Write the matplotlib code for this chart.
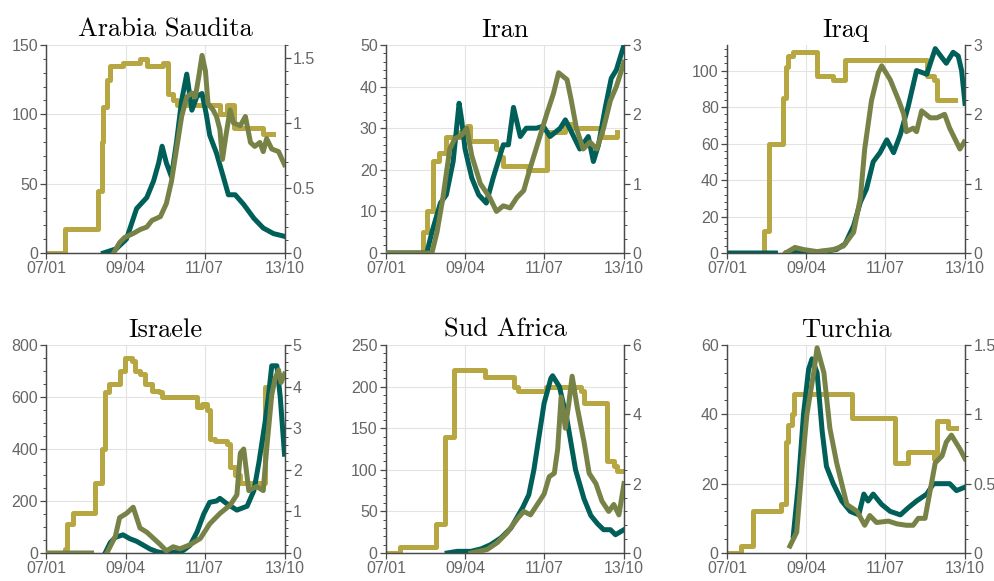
import numpy as np
import matplotlib
matplotlib.use("Agg")
import matplotlib.pyplot as plt
from matplotlib.ticker import AutoMinorLocator

# x axis: days since 07/01
xticks = [0, 93, 186, 280]
xlabels = ["07/01", "09/04", "11/07", "13/10"]

TEAL = "#005f58"; OLIVE = "#778247"; GOLD = "#b6a742"
nan = np.nan

# ---------- Arabia Saudita ----------
sa_gold_d = [0, 21.6, 59, 61, 65, 67, 71, 75, 90, 110, 118, 137, 143, 149, 153, 200, 204, 212, 218, 220, 251, 255, 267]
sa_gold_v = [0, 17, 17, 45, 80, 105, 125, 135, 137, 140, 135, 137, 115, 110, 107, 107, 100, 107, 107, 90, 90, 86, 86]
sa_teal_d = [67, 82, 94, 106, 118, 126, 132, 136, 141, 147, 153, 159, 165, 171, 177, 183, 188, 192, 200, 208, 214, 222, 232, 244, 255, 267, 280]
sa_teal_v = [0, 3, 10, 32, 40, 52, 65, 77, 65, 55, 80, 110, 129, 103, 113, 115, 100, 85, 72, 55, 42, 42, 35, 25, 18, 14, 12]
sa_olive_d = [79, 86, 92, 102, 110, 118, 124, 134, 141, 147, 153, 159, 165, 171, 175, 179, 183, 187, 190, 196, 200, 204, 207, 211, 216, 220, 228, 234, 240, 245, 251, 255, 259, 265, 273, 280]
sa_olive_v = [0, 0.08, 0.12, 0.15, 0.18, 0.2, 0.25, 0.28, 0.38, 0.55, 0.8, 1.05, 1.2, 1.23, 1.2, 1.35, 1.52, 1.4, 1.15, 1.1, 1.05, 0.95, 0.72, 0.9, 1.1, 1.0, 0.98, 1.05, 0.85, 0.82, 0.85, 0.78, 0.88, 0.8, 0.78, 0.68]

# ---------- Iran ----------
ir_gold_d = [0, 42, 44, 48, 55, 62, 71, 87, 95, 99, 122, 130, 134, 138, 165, 167, 185, 189, 205, 211, 220, 252, 254, 269, 272]
ir_gold_v = [0, 0, 5, 10, 22, 24, 28, 29, 30.5, 27, 27, 25, 23, 21, 21, 20, 20, 29, 29, 31, 30, 30, 28, 28, 29]
ir_teal_d = [0, 48, 54, 64, 71, 79, 86, 89, 93, 101, 109, 118, 126, 138, 144, 150, 158, 165, 177, 185, 193, 205, 211, 216, 228, 238, 244, 250, 258, 265, 271, 280]
ir_teal_v = [0, 0, 5, 12, 14, 22, 36, 32, 25, 18, 14, 12, 18, 26, 26, 35, 28, 30, 30, 30.5, 28, 30, 32, 30, 25, 28, 22, 26, 35, 42, 44, 50]
ir_olive_d = [0, 54, 60, 67, 75, 81, 89, 95, 101, 111, 122, 130, 138, 146, 154, 162, 169, 179, 189, 197, 203, 213, 218, 224, 232, 240, 248, 256, 264, 271, 280]
ir_olive_v = [0, 0, 0.3, 0.8, 1.5, 1.65, 1.7, 1.8, 1.4, 1.0, 0.8, 0.6, 0.68, 0.65, 0.8, 0.9, 1.2, 1.6, 2.0, 2.3, 2.6, 2.5, 2.2, 1.8, 1.5, 1.6, 1.5, 1.8, 2.2, 2.4, 2.75]

# ---------- Iraq ----------
iq_gold_d = [0, 41, 43, 49, 63, 66, 69, 72, 78, 104, 106, 121, 125, 137, 139, 233, 235, 243, 247, 268]
iq_gold_v = [0, 0, 12, 60, 60, 85, 102, 108, 110, 110, 97, 97, 95, 95, 106, 106, 97, 95, 84, 84]
iq_teal_d = [0, 57, 57.5, 70, 117, 129, 139, 149, 157, 164, 172, 180, 188, 196, 204, 213, 223, 235, 245, 253, 258, 266, 272, 276, 280]
iq_teal_v = [0, 0, nan, 0, 1, 2, 5, 15, 28, 35, 50, 55, 62, 55, 65, 80, 100, 98, 112, 107, 104, 110, 108, 100, 82]
iq_olive_d = [69, 80, 90, 106, 125, 137, 149, 157, 162, 170, 178, 182, 192, 202, 208, 211, 219, 223, 229, 239, 247, 256, 262, 270, 274, 279]
iq_olive_v = [0, 0.08, 0.05, 0.02, 0.05, 0.1, 0.3, 0.8, 1.5, 2.2, 2.6, 2.7, 2.5, 2.2, 2.0, 1.75, 1.8, 1.75, 2.05, 1.95, 1.95, 2.0, 1.8, 1.6, 1.5, 1.6]

# ---------- Israele ----------
il_gold_d = [0, 16, 22, 24, 31, 53, 57, 61, 65, 69, 73, 81, 86, 92, 100, 104, 110, 116, 124, 132, 136, 173, 177, 183, 189, 192, 198, 212, 216, 222, 228, 253, 257, 263, 271, 274]
il_gold_v = [0, 0, 15, 110, 155, 155, 270, 270, 400, 620, 650, 650, 700, 750, 740, 700, 690, 650, 625, 620, 600, 600, 560, 575, 550, 440, 430, 420, 330, 300, 270, 270, 640, 660, 680, 680]
il_teal_d = [69, 75, 81, 90, 98, 106, 114, 122, 130, 137, 149, 161, 169, 177, 185, 192, 200, 204, 212, 224, 236, 244, 250, 257, 261, 265, 271, 275, 280]
il_teal_v = [0, 40, 60, 70, 55, 45, 30, 15, 5, 0, 2, 10, 30, 80, 150, 195, 200, 210, 190, 165, 180, 240, 350, 500, 600, 720, 720, 600, 380]
il_olive_d = [0, 53, 53.5, 71, 81, 86, 94, 102, 110, 118, 126, 134, 141, 149, 157, 169, 181, 192, 204, 216, 224, 228, 232, 238, 247, 255, 259, 265, 269, 273, 276, 280]
il_olive_v = [0, 0, nan, 0, 0.4, 0.85, 0.95, 1.1, 0.6, 0.5, 0.35, 0.2, 0.05, 0.15, 0.1, 0.2, 0.35, 0.7, 0.95, 1.15, 1.4, 2.4, 2.5, 1.5, 1.6, 1.5, 2.5, 3.8, 4.2, 4.4, 4.1, 4.3]

# ---------- Sud Africa ----------
za_gold_d = [0, 12, 16, 55, 59, 67, 70, 76, 80, 114, 117, 145, 151, 155, 184, 188, 223, 229, 233, 256, 260, 268, 272, 277]
za_gold_v = [0, 0, 7, 7, 35, 35, 140, 140, 220, 220, 212, 212, 200, 195, 195, 200, 200, 195, 180, 180, 110, 105, 98, 98]
za_teal_d = [72, 84, 100, 112, 123, 135, 147, 161, 168, 174, 180, 186, 194, 196, 204, 213, 223, 233, 241, 249, 256, 264, 270, 280]
za_teal_v = [0, 2, 2, 5, 10, 18, 30, 55, 70, 100, 140, 180, 210, 213, 200, 160, 100, 65, 45, 35, 28, 28, 22, 28]
za_olive_d = [100, 119, 131, 143, 155, 162, 170, 178, 186, 192, 198, 202, 206, 211, 215, 219, 225, 233, 239, 247, 254, 262, 268, 274, 280]
za_olive_v = [0, 0.1, 0.3, 0.6, 1.0, 1.2, 1.1, 1.4, 1.7, 2.2, 2.3, 3.0, 4.5, 3.6, 4.3, 5.1, 4.2, 3.2, 2.3, 2.0, 1.5, 1.2, 1.4, 1.1, 2.0]

# ---------- Turchia ----------
tr_gold_d = [0, 14, 16, 27, 31, 59, 63, 67, 70, 72, 76, 79, 145, 147, 196, 198, 211, 213, 239, 243, 245, 247, 256, 260, 270]
tr_gold_v = [0, 0, 2, 2, 12, 12, 14, 14, 32, 37, 40, 46, 46, 39, 39, 26, 26, 29, 29, 27, 28, 38, 38, 36, 36]
tr_teal_d = [78, 84, 90, 96, 100, 106, 112, 117, 125, 135, 145, 155, 161, 166, 172, 182, 192, 204, 213, 223, 235, 243, 251, 262, 270, 280]
tr_teal_v = [5, 20, 40, 53, 56, 52, 35, 25, 20, 15, 12, 11, 17, 15, 17, 14, 12, 11, 13, 15, 17, 20, 20, 20, 18, 19]
tr_olive_d = [74, 82, 88, 94, 102, 106, 114, 121, 129, 135, 141, 153, 162, 168, 176, 190, 200, 211, 219, 225, 233, 239, 245, 253, 258, 264, 274, 280]
tr_olive_v = [0.05, 0.15, 0.6, 1.0, 1.3, 1.48, 1.3, 0.9, 0.65, 0.5, 0.35, 0.3, 0.2, 0.27, 0.22, 0.23, 0.21, 0.2, 0.2, 0.25, 0.25, 0.45, 0.65, 0.7, 0.8, 0.85, 0.75, 0.68]

panels = [
    ("Arabia Saudita", sa_gold_d, sa_gold_v, sa_teal_d, sa_teal_v, sa_olive_d, sa_olive_v, (0, 150), [0, 50, 100, 150], (0, 1.6), [0, 0.5, 1, 1.5], ["0", "0.5", "1", "1.5"]),
    ("Iran", ir_gold_d, ir_gold_v, ir_teal_d, ir_teal_v, ir_olive_d, ir_olive_v, (0, 50), [0, 10, 20, 30, 40, 50], (0, 3), [0, 1, 2, 3], ["0", "1", "2", "3"]),
    ("Iraq", iq_gold_d, iq_gold_v, iq_teal_d, iq_teal_v, iq_olive_d, iq_olive_v, (0, 114), [0, 20, 40, 60, 80, 100], (0, 3), [0, 1, 2, 3], ["0", "1", "2", "3"]),
    ("Israele", il_gold_d, il_gold_v, il_teal_d, il_teal_v, il_olive_d, il_olive_v, (0, 800), [0, 200, 400, 600, 800], (0, 5), [0, 1, 2, 3, 4, 5], ["0", "1", "2", "3", "4", "5"]),
    ("Sud Africa", za_gold_d, za_gold_v, za_teal_d, za_teal_v, za_olive_d, za_olive_v, (0, 250), [0, 50, 100, 150, 200, 250], (0, 6), [0, 2, 4, 6], ["0", "2", "4", "6"]),
    ("Turchia", tr_gold_d, tr_gold_v, tr_teal_d, tr_teal_v, tr_olive_d, tr_olive_v, (0, 60), [0, 20, 40, 60], (0, 1.5), [0, 0.5, 1, 1.5], ["0", "0.5", "1", "1.5"]),
]

W, H = 995, 581
lefts = [46.5, 386, 727]
widths = [238, 238, 238]
tops = [45, 345]
hgt = 208

plt.rcParams["font.family"] = ["Liberation Sans", "DejaVu Sans"]
fig = plt.figure(figsize=(W / 100, H / 100), dpi=100)
GRAY = "#666666"; SP = "#4a4a4a"
LW = 3.6

for i, (name, gd, gv, td, tv, od, ov, yl, yt, yr, yrt, yrl) in enumerate(panels):
    r, c = divmod(i, 3)
    ax = fig.add_axes([lefts[c] / W, 1 - (tops[r] + hgt) / H, widths[c] / W, hgt / H])
    ax.plot(gd, gv, color=GOLD, lw=LW, drawstyle="steps-post", solid_joinstyle="round", zorder=2)
    ax.plot(td, tv, color=TEAL, lw=LW, solid_joinstyle="round", zorder=3)
    ax.set_xlim(0, 280); ax.set_ylim(*yl)
    ax.set_xticks(xticks); ax.set_xticklabels(xlabels)
    ax.set_yticks(yt)
    ax.yaxis.set_minor_locator(AutoMinorLocator(5 if yt[1] - yt[0] in (10, 20, 50) else 4))
    ax.grid(True, color="#e3e3e3", lw=0.8, zorder=0)
    ax.set_axisbelow(True)
    ax.spines["top"].set_visible(False)
    for s in ["left", "bottom", "right"]:
        ax.spines[s].set_color(SP); ax.spines[s].set_linewidth(0.9)
    ax.tick_params(axis="both", which="major", labelsize=11.5, labelcolor=GRAY, color=SP, length=4, width=0.9, pad=2)
    ax.tick_params(axis="y", which="minor", color=SP, length=2.5, width=0.7)
    ax.set_title(name, fontfamily="cmr10", fontsize=19, pad=6)

    ax2 = ax.twinx()
    ax2.plot(od, ov, color=OLIVE, lw=LW, solid_joinstyle="round", zorder=3)
    ax2.set_ylim(*yr)
    ax2.set_yticks(yrt); ax2.set_yticklabels(yrl)
    ax2.yaxis.set_minor_locator(AutoMinorLocator(5))
    ax2.spines["top"].set_visible(False)
    for s in ["left", "bottom", "right"]:
        ax2.spines[s].set_color(SP); ax2.spines[s].set_linewidth(0.9)
    ax2.tick_params(axis="y", which="major", labelsize=11.5, labelcolor=GRAY, color=SP, length=4, width=0.9, pad=2)
    ax2.tick_params(axis="y", which="minor", color=SP, length=2.5, width=0.7)

fig.savefig("out.png", dpi=100)
